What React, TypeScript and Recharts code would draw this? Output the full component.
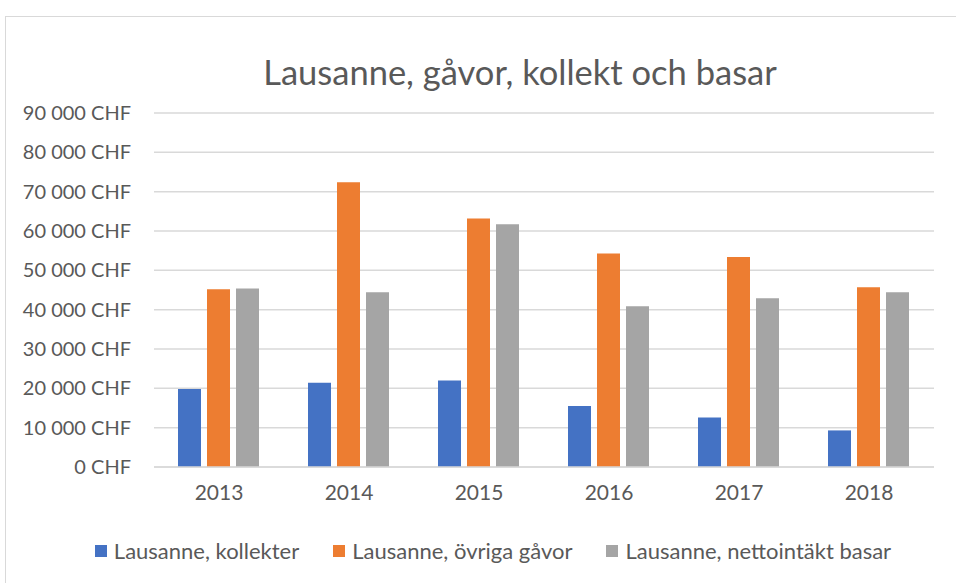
import React from 'react';
import { BarChart, Bar, XAxis, YAxis, CartesianGrid, Legend } from 'recharts';

const years = ['2013', '2014', '2015', '2016', '2017', '2018'];
const kollekter = [19800, 21400, 22000, 15500, 12600, 9300];
const ovrigaGavor = [45200, 72400, 63200, 54300, 53400, 45700];
const nettoBasar = [45400, 44400, 61700, 40900, 42900, 44400];
const yTicks = [0, 10000, 20000, 30000, 40000, 50000, 60000, 70000, 80000, 90000];

const SERIES = [
  { key: 'kollekter', name: 'Lausanne, kollekter', color: '#4472C4' },
  { key: 'ovriga', name: 'Lausanne, övriga gåvor', color: '#ED7D31' },
  { key: 'basar', name: 'Lausanne, nettointäkt basar', color: '#A5A5A5' },
];

const data = years.map((y, i) => ({
  year: y,
  kollekter: kollekter[i],
  ovriga: ovrigaGavor[i],
  basar: nettoBasar[i],
}));

const FONT = 'Lato, "Liberation Sans", sans-serif';
const TEXT = '#595959';

const fmtChf = (v: number) => String(v).replace(/\B(?=(\d{3})+(?!\d))/g, ' ') + ' CHF';

const LegendContent = () => (
  <div style={{ display: 'flex', justifyContent: 'center', gap: 34, paddingLeft: 30, fontFamily: FONT, fontSize: 22, color: TEXT }}>
    {SERIES.map(s => (
      <div key={s.key} style={{ display: 'flex', alignItems: 'center', gap: 7 }}>
        <div style={{ width: 12, height: 12, background: s.color }} />
        <span>{s.name}</span>
      </div>
    ))}
  </div>
);

export default function App() {
  return (
    <div style={{ position: 'absolute', left: 0, top: 0, width: 956, height: 583, overflow: 'hidden', background: '#fff' }}>
      <div style={{ position: 'absolute', left: 5, top: 16, width: 1100, height: 1000, border: '1px solid #d9d9d9' }} />
      <div style={{ position: 'absolute', left: 84, top: 51, width: 872, textAlign: 'center', fontFamily: FONT, fontSize: 34.5, color: TEXT }}>
        Lausanne, gåvor, kollekt och basar
      </div>
      <div style={{ position: 'absolute', left: 0, top: 0 }}>
        <BarChart width={956} height={583} data={data} margin={{ top: 113, right: 22, left: 0, bottom: 86 }}
          barCategoryGap={24} barGap={6}>
          <CartesianGrid vertical={false} stroke="#d9d9d9" strokeWidth={1.5} />
          <XAxis dataKey="year" height={30} tickLine={false} axisLine={{ stroke: '#d9d9d9', strokeWidth: 1.5 }}
            tick={{ fill: TEXT, fontSize: 21, fontFamily: FONT }} tickMargin={12} />
          <YAxis width={154} domain={[0, 90000]} ticks={yTicks} tickFormatter={fmtChf} tickLine={false} axisLine={false}
            tick={{ fill: TEXT, fontSize: 20, fontFamily: FONT }} tickMargin={17} interval={0} />
          {SERIES.map(s => (
            <Bar key={s.key} dataKey={s.key} name={s.name} fill={s.color} isAnimationActive={false} />
          ))}
          <Legend verticalAlign="middle" content={<LegendContent />} wrapperStyle={{ top: 537, left: 0, width: 956 }} />
        </BarChart>
      </div>
    </div>
  );
}
